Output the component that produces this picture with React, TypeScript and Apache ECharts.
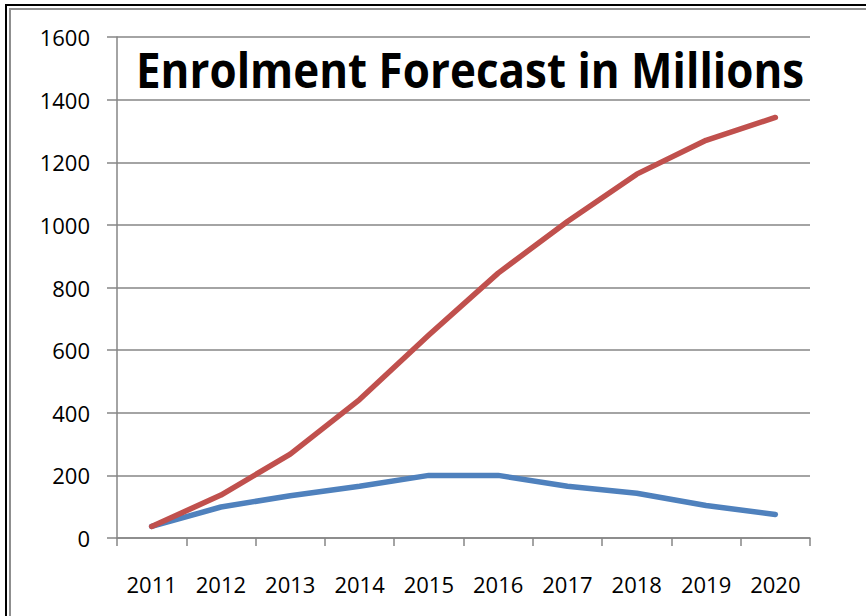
import React, { useEffect, useRef } from "react";
import * as echarts from "echarts";

const years = ["2011", "2012", "2013", "2014", "2015", "2016", "2017", "2018", "2019", "2020"];
const blueSeries = [37, 99, 135, 165, 200, 200, 165, 143, 104, 75];
const redSeries = [37, 137, 268, 442, 648, 846, 1011, 1162, 1270, 1343];
const titleText = "Enrolment Forecast in Millions";

export default function App() {
  const ref = useRef<HTMLDivElement>(null);
  useEffect(() => {
    if (!ref.current) return;
    const chart = echarts.init(ref.current, null, { renderer: "svg" });
    const titleFont = "bold 48px 'Open Sans'";
    let scaleX = 0.78;
    try {
      const c = document.createElement("canvas").getContext("2d");
      if (c) {
        c.font = titleFont;
        const w = c.measureText(titleText).width;
        if (w > 0) scaleX = 668 / w;
      }
    } catch (e) {}
    const gray = "#868686";
    chart.setOption({
      animation: false,
      backgroundColor: "#ffffff",
      grid: { left: 117, right: 56, top: 37, bottom: 78, containLabel: false },
      xAxis: {
        type: "category",
        data: years,
        boundaryGap: true,
        axisLine: { show: true, lineStyle: { color: gray, width: 1.5 } },
        axisTick: { show: true, length: 8, lineStyle: { color: gray, width: 1.5 } },
        axisLabel: { color: "#000", fontFamily: "Open Sans", fontSize: 22, margin: 35 },
        splitLine: { show: false },
      },
      yAxis: {
        type: "value",
        min: 0,
        max: 1600,
        interval: 200,
        axisLine: { show: true, lineStyle: { color: gray, width: 1.5 } },
        axisTick: { show: true, length: 10, lineStyle: { color: gray, width: 1.5 } },
        axisLabel: {
          color: "#000",
          fontFamily: "Open Sans",
          fontSize: 22,
          margin: 27,
          formatter: (v: number) => String(v),
        },
        splitLine: { show: true, lineStyle: { color: gray, width: 1.5 } },
      },
      series: [
        {
          type: "line",
          data: blueSeries,
          symbol: "none",
          lineStyle: { color: "#4F81BD", width: 5.5, cap: "round", join: "round" },
          itemStyle: { color: "#4F81BD" },
        },
        {
          type: "line",
          data: redSeries,
          symbol: "none",
          lineStyle: { color: "#C0504D", width: 5.5, cap: "round", join: "round" },
          itemStyle: { color: "#C0504D" },
        },
      ],
      graphic: [
        {
          type: "rect",
          shape: { x: 6, y: 5, width: 1000, height: 1000 },
          style: { fill: "none", stroke: "#000", lineWidth: 2 },
          silent: true,
        },
        {
          type: "rect",
          shape: { x: 10, y: 9, width: 1000, height: 1000 },
          style: { fill: "none", stroke: "#8f8f8f", lineWidth: 2 },
          silent: true,
        },
        {
          type: "text",
          x: 136,
          y: 45,
          scaleX: scaleX,
          style: {
            text: titleText,
            font: titleFont,
            fill: "#000",
            textAlign: "left",
            textVerticalAlign: "alphabetic",
            verticalAlign: "alphabetic",
          },
          z: 100,
        },
      ],
    });
    return () => chart.dispose();
  }, []);
  return (
    <div
      ref={ref}
      style={{ position: "fixed", left: 0, top: 0, width: 866, height: 616, background: "#fff" }}
    />
  );
}
